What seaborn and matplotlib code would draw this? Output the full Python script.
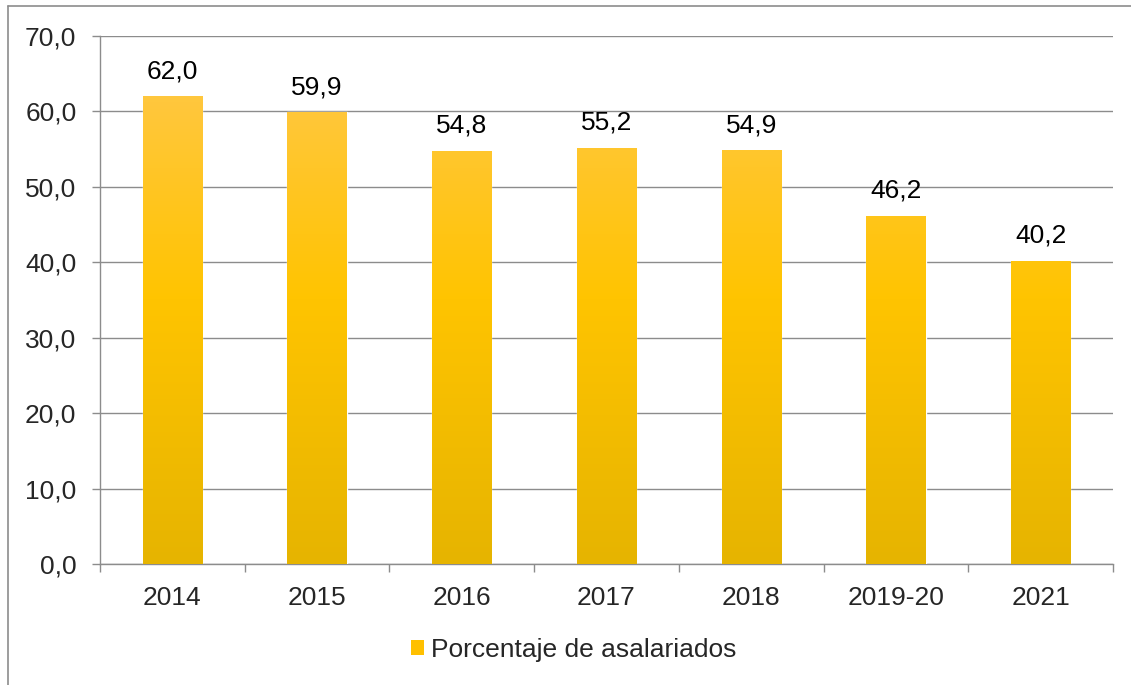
import numpy as np
import pandas as pd
import matplotlib.pyplot as plt
import seaborn as sns
from matplotlib.lines import Line2D
from matplotlib.colors import LinearSegmentedColormap

years = ['2014', '2015', '2016', '2017', '2018', '2019-20', '2021']
values = [62.0, 59.9, 54.8, 55.2, 54.9, 46.2, 40.2]
series_name = 'Porcentaje de asalariados'

df = pd.DataFrame({'year': years, 'value': values})

sns.set_style('white')
plt.rcParams['font.family'] = ['Liberation Sans', 'DejaVu Sans']

fig = plt.figure(figsize=(11.31, 6.85), dpi=100)
ax = fig.add_axes([100 / 1131, 1 - 564 / 685, 1013 / 1131, 528 / 685])

ax = sns.barplot(data=df, x='year', y='value', color='#FFC000', width=0.41,
                 saturation=1, ax=ax, zorder=3)

# gradient fill on each bar
cmap = LinearSegmentedColormap.from_list('gold', ['#E6B400', '#FFC400', '#FFC850'])
grad = np.linspace(0, 1, 256).reshape(-1, 1)
for bar in ax.patches:
    x0 = bar.get_x()
    w = bar.get_width()
    im = ax.imshow(grad, cmap=cmap, aspect='auto', origin='lower',
                   extent=[x0, x0 + w, 0, 70], zorder=4)
    im.set_clip_path(bar)

ax.set_xlim(-0.5, len(years) - 0.5)
ax.set_ylim(0, 70)
ax.set_yticks(np.arange(0, 71, 10))
ax.set_yticklabels([f'{v:.1f}'.replace('.', ',') for v in np.arange(0, 71, 10)])
ax.yaxis.grid(True, color='#8c8c8c', linewidth=1.0, zorder=0)
ax.set_axisbelow(True)

fs = 19
for i, v in enumerate(values):
    ax.text(i, v + 1.7, f'{v:.1f}'.replace('.', ','), ha='center', va='bottom',
            fontsize=fs, color='black', zorder=5)

ax.set_xlabel('')
ax.set_ylabel('')
for s in ['top', 'right']:
    ax.spines[s].set_visible(False)
for s in ['left', 'bottom']:
    ax.spines[s].set_color('#8c8c8c')
    ax.spines[s].set_linewidth(1.0)

ax.tick_params(axis='y', which='major', length=6, color='#8c8c8c', width=1,
               labelsize=fs, pad=11, left=True)
ax.tick_params(axis='x', which='major', length=0, labelsize=fs, pad=16)
ax.set_xticks(np.arange(-0.5, len(years), 1), minor=True)
ax.tick_params(axis='x', which='minor', length=6, color='#8c8c8c', width=1, bottom=True)

# legend
handle = plt.Rectangle((0, 0), 1, 1, facecolor='#FFC000', edgecolor='none')
fig.legend([handle], [series_name], loc='center', bbox_to_anchor=(0.507, 1 - 650 / 685),
           frameon=False, fontsize=fs, handlelength=0.5, handleheight=0.5,
           handletextpad=0.25)

# chart frame remnants
fig.add_artist(Line2D([8 / 1131, 1.0], [1 - 6 / 685] * 2, color='#8c8c8c', lw=1.2,
                      transform=fig.transFigure))
fig.add_artist(Line2D([8 / 1131] * 2, [1 - 6 / 685, 0.0], color='#8c8c8c', lw=1.2,
                      transform=fig.transFigure))

fig.savefig('out.png', dpi=100)
plt.close()
